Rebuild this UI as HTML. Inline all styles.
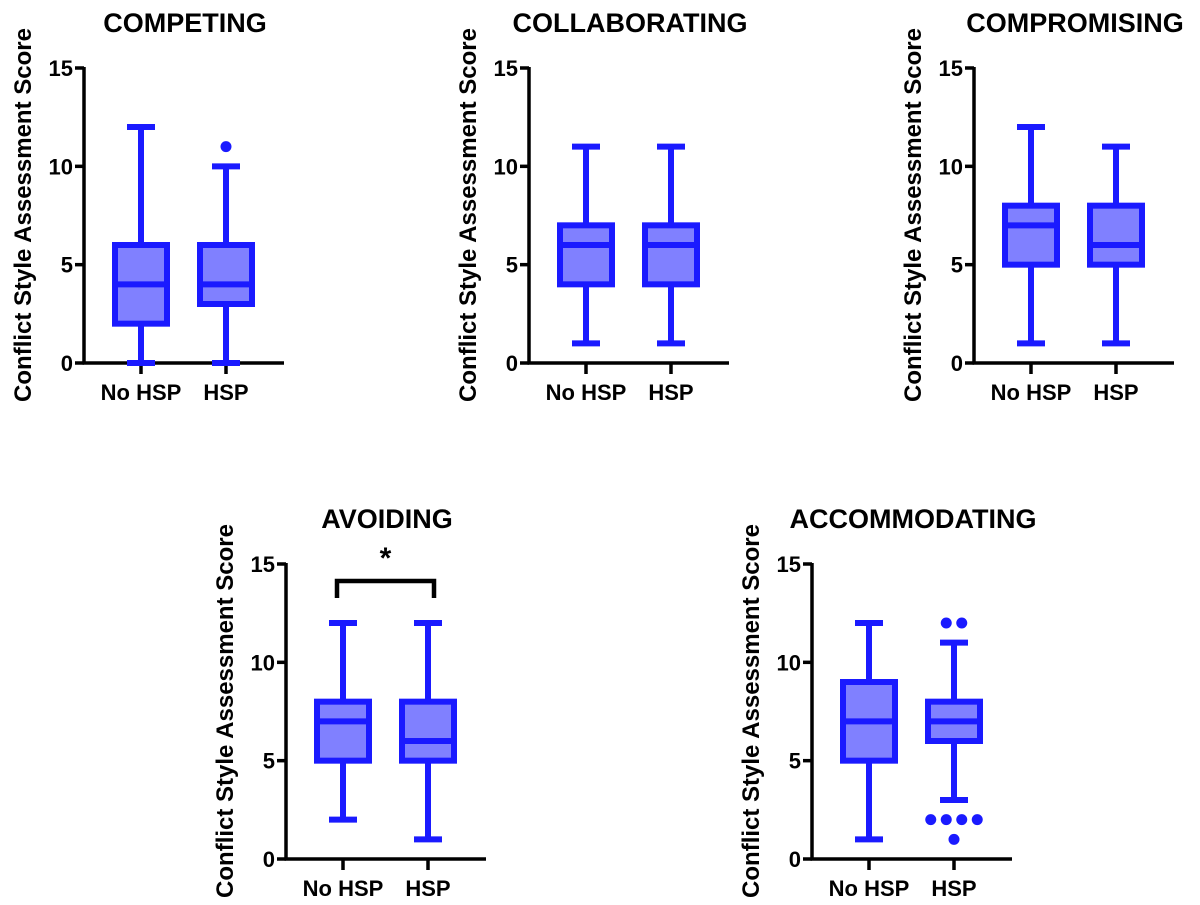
<!DOCTYPE html>
<html><head><meta charset="utf-8"><style>
html,body{margin:0;padding:0;background:#fff;}
svg{display:block;font-family:"Liberation Sans",Arial,sans-serif;font-weight:bold;}
</style></head><body>
<svg id="chart" width="1200" height="905" viewBox="0 0 1200 905"></svg>
<script>
const panelTitles = ["COMPETING","COLLABORATING","COMPROMISING","AVOIDING","ACCOMMODATING"];
const categories = ["No HSP","HSP"];
// [min, q1, median, q3, max] per group
const noHspStats = [[0,2,4,6,12],[1,4,6,7,11],[1,5,7,8,12],[2,5,7,8,12],[1,5,7,9,12]];
const hspStats = [[0,3,4,6,10],[1,4,6,7,11],[1,5,6,8,11],[1,5,6,8,12],[3,6,7,8,11]];
// outliers for HSP group per panel: [value, horizontal slot]
const hspOutliers = [[[11,0]],[],[],[],[[12,-0.5],[12,0.5],[2,-1.5],[2,-0.5],[2,0.5],[2,1.5],[1,0]]];
const yTicks = [0,5,10,15];
const sigPanels = [3];

const NS="http://www.w3.org/2000/svg";
const svg=document.getElementById('chart');
function el(tag,attrs,parent){const e=document.createElementNS(NS,tag);for(const k in attrs)e.setAttribute(k,attrs[k]);(parent||svg).appendChild(e);return e;}
const origins=[[84,363],[529,363],[974,363],[286,859],[812,859]];
const BLUE="#1a1aff", FILL="#8080ff";
const yMax=15, plotH=295;

origins.forEach(([ax,ay],p)=>{
  const g=el('g',{});
  
  
  const Y=v=>ay-v/yMax*plotH;
  const X=i=>ax+57+i*85;
  const t=el('text',{x:ax+101,y:ay-331,'text-anchor':'middle','font-size':27},g);
  t.textContent=panelTitles[p];
  
  
  const yl=el('text',{x:0,y:0,'text-anchor':'middle','font-size':24,transform:`translate(${ax-53},${ay-148}) rotate(-90)`},g);
  yl.textContent="Conflict Style Assessment Score";
  
  
  el('line',{x1:ax,y1:Y(15)-1,x2:ax,y2:ay+1.5,stroke:'#000','stroke-width':3.5},g);
  el('line',{x1:ax-1.5,y1:ay,x2:ax+200,y2:ay,stroke:'#000','stroke-width':3.5},g);
  yTicks.forEach(v=>{
    el('line',{x1:ax-9,y1:Y(v),x2:ax,y2:Y(v),stroke:'#000','stroke-width':3.5},g);
    const tt=el('text',{x:ax-11,y:Y(v)+8,'text-anchor':'end','font-size':22},g);
    tt.textContent=v;
    
    
  });
  categories.forEach((c,i)=>{
    el('line',{x1:X(i),y1:ay,x2:X(i),y2:ay+11,stroke:'#000','stroke-width':3.5},g);
    const ct=el('text',{x:X(i),y:ay+37,'text-anchor':'middle','font-size':22},g);
    ct.textContent=c;
    
    
    const s=(i===0?noHspStats:hspStats)[p];
    const bw=52, cx=X(i);
    const bg=el('g',{},g);
    
    
    el('line',{x1:cx,y1:Y(s[0]),x2:cx,y2:Y(s[1]),stroke:BLUE,'stroke-width':6},bg);
    el('line',{x1:cx,y1:Y(s[3]),x2:cx,y2:Y(s[4]),stroke:BLUE,'stroke-width':6},bg);
    el('line',{x1:cx-14,y1:Y(s[0]),x2:cx+14,y2:Y(s[0]),stroke:BLUE,'stroke-width':6},bg);
    el('line',{x1:cx-14,y1:Y(s[4]),x2:cx+14,y2:Y(s[4]),stroke:BLUE,'stroke-width':6},bg);
    el('rect',{x:cx-bw/2,y:Y(s[3]),width:bw,height:Y(s[1])-Y(s[3]),fill:FILL,stroke:BLUE,'stroke-width':6},bg);
    el('line',{x1:cx-bw/2,y1:Y(s[2]),x2:cx+bw/2,y2:Y(s[2]),stroke:BLUE,'stroke-width':6},bg);
  });
  hspOutliers[p].forEach(([v,slot])=>{
    const c=el('circle',{cx:X(1)+slot*15.5,cy:Y(v),r:5.5,fill:BLUE},g);
    
    
  });
  if(sigPanels.includes(p)){
    const b=el('path',{d:`M${X(0)-6},${ay-261} V${ay-278} H${X(1)+6} V${ay-261}`,fill:'none',stroke:'#000','stroke-width':4.5},g);
    
    
    const st=el('text',{x:(X(0)+X(1))/2,y:ay-291,'text-anchor':'middle','font-size':30},g);
    st.textContent='*';
    
    
  }
});
</script>
</body></html>
